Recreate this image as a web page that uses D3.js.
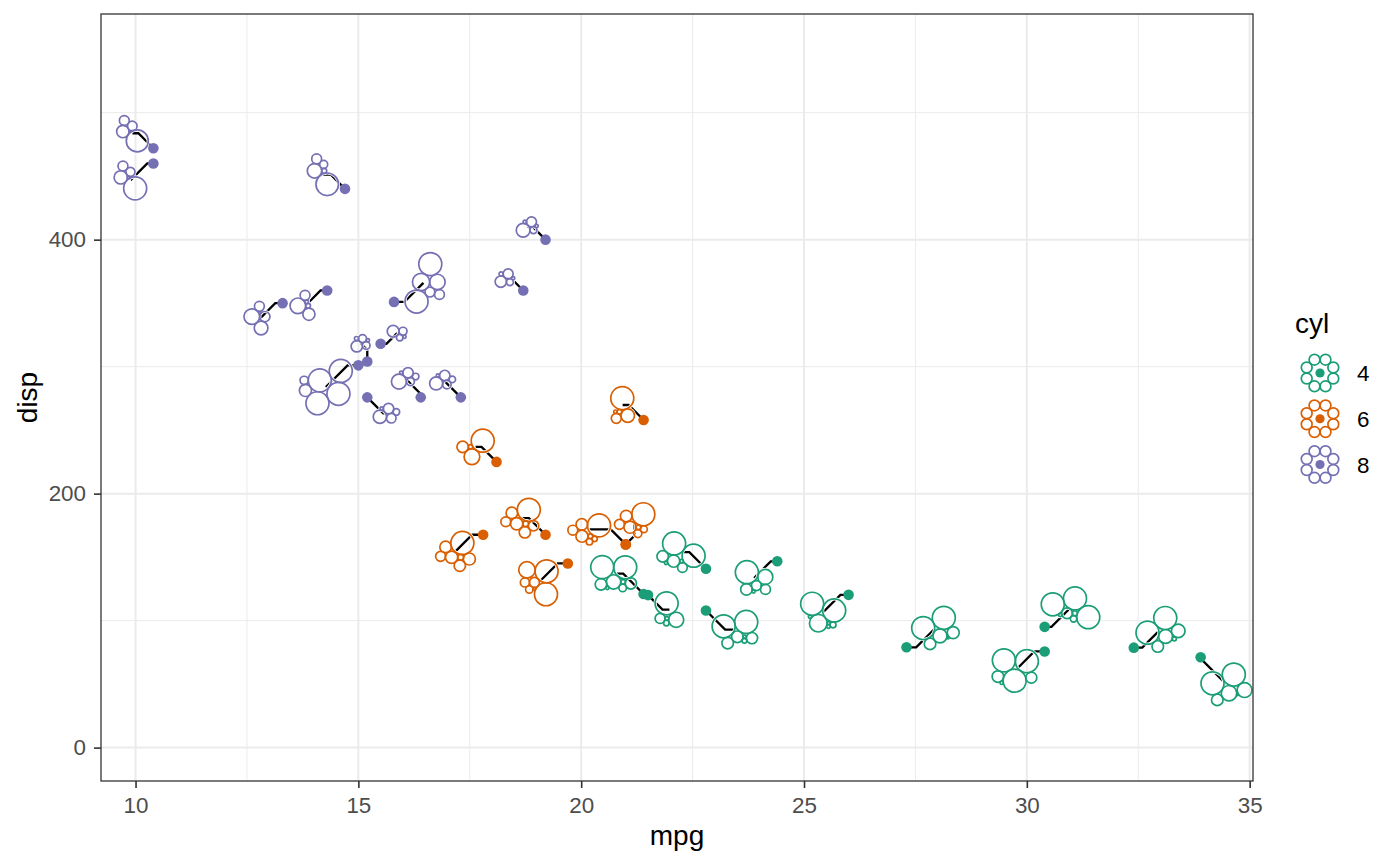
<!DOCTYPE html>
<html>
<head>
<meta charset="utf-8">
<script src="https://cdn.jsdelivr.net/npm/d3@7"></script>
<style>
  body { margin: 0; background: #fff; }
  text { font-family: "Liberation Sans", Arial, sans-serif; }
</style>
</head>
<body>
<div id="chart"></div>
<script>
// mtcars, in the usual row order
const carNames = ['Mazda RX4', 'Mazda RX4 Wag', 'Datsun 710', 'Hornet 4 Drive', 'Hornet Sportabout', 'Valiant',
  'Duster 360', 'Merc 240D', 'Merc 230', 'Merc 280', 'Merc 280C', 'Merc 450SE', 'Merc 450SL', 'Merc 450SLC',
  'Cadillac Fleetwood', 'Lincoln Continental', 'Chrysler Imperial', 'Fiat 128', 'Honda Civic', 'Toyota Corolla',
  'Toyota Corona', 'Dodge Challenger', 'AMC Javelin', 'Camaro Z28', 'Pontiac Firebird', 'Fiat X1-9',
  'Porsche 914-2', 'Lotus Europa', 'Ford Pantera L', 'Ferrari Dino', 'Maserati Bora', 'Volvo 142E'];
const mpg  = [21.0, 21.0, 22.8, 21.4, 18.7, 18.1, 14.3, 24.4, 22.8, 19.2, 17.8, 16.4, 17.3, 15.2, 10.4, 10.4,
  14.7, 32.4, 30.4, 33.9, 21.5, 15.5, 15.2, 13.3, 19.2, 27.3, 26.0, 30.4, 15.8, 19.7, 15.0, 21.4];
const cyl  = [6, 6, 4, 6, 8, 6, 8, 4, 4, 6, 6, 8, 8, 8, 8, 8, 8, 4, 4, 4, 4, 8, 8, 8, 8, 4, 4, 4, 8, 6, 8, 4];
const disp = [160, 160, 108, 258, 360, 225, 360, 146.7, 140.8, 167.6, 167.6, 275.8, 275.8, 275.8, 472, 460,
  440, 78.7, 75.7, 71.1, 120.1, 318, 304, 350, 400, 79, 120.3, 95.1, 351, 145, 301, 121];
const hp   = [110, 110, 93, 110, 175, 105, 245, 62, 95, 123, 123, 180, 180, 180, 205, 215, 230, 66, 52, 65,
  97, 150, 150, 245, 175, 66, 91, 113, 264, 175, 335, 109];
const drat = [3.90, 3.90, 3.85, 3.08, 3.15, 2.76, 3.21, 3.69, 3.92, 3.92, 3.92, 3.07, 3.07, 3.07, 2.93, 3.00,
  3.23, 4.08, 4.93, 4.22, 3.70, 2.76, 3.15, 3.73, 3.08, 4.08, 4.43, 3.77, 4.22, 3.62, 3.54, 4.11];
const wt   = [2.620, 2.875, 2.320, 3.215, 3.440, 3.460, 3.570, 3.190, 3.150, 3.440, 3.440, 4.070, 3.730, 3.780,
  5.250, 5.424, 5.345, 2.200, 1.615, 1.835, 2.465, 3.520, 3.435, 3.840, 3.845, 1.935, 2.140, 1.513, 3.170,
  2.770, 3.570, 2.780];
const qsec = [16.46, 17.02, 18.61, 19.44, 17.02, 20.22, 15.84, 20.00, 22.90, 18.30, 18.90, 17.40, 17.60, 18.00,
  17.98, 17.82, 17.42, 19.47, 18.52, 19.90, 20.01, 16.87, 17.30, 15.41, 17.05, 18.90, 16.70, 16.90, 14.50,
  15.50, 14.60, 18.60];
const vs   = [0, 0, 1, 1, 0, 1, 0, 1, 1, 1, 1, 0, 0, 0, 0, 0, 0, 1, 1, 1, 1, 0, 0, 0, 0, 1, 0, 1, 0, 0, 0, 1];
const am   = [1, 1, 1, 0, 0, 0, 0, 0, 0, 0, 0, 0, 0, 0, 0, 0, 0, 1, 1, 1, 0, 0, 0, 0, 0, 1, 1, 1, 1, 1, 1, 1];
const gear = [4, 4, 4, 3, 3, 3, 3, 4, 4, 4, 4, 3, 3, 3, 3, 3, 3, 4, 4, 4, 3, 3, 3, 3, 3, 4, 5, 5, 5, 5, 5, 4];
const carb = [4, 4, 1, 1, 2, 1, 4, 2, 2, 4, 4, 3, 3, 3, 4, 4, 4, 1, 2, 1, 1, 2, 2, 4, 2, 1, 2, 2, 4, 6, 8, 2];

// how far each glyph was pushed away from its point (mpg / disp units)
const nudgeMpg  = [-0.82, 0.20, 0.65, -0.47, -0.41, -0.47, -0.49, -0.52, -0.56, -0.56, -0.62, -0.35, -0.41, 0.43,
  -0.47, -0.51, -0.49, 0.60, -0.66, 0.58, 0.48, 0.37, -0.15, -0.50, -0.41, 0.65, -0.57, 0.58, 0.66, -0.66,
  -0.73, -0.67];
const nudgeDisp = [11.8, 19.1, -15.1, 11.8, 9.7, 11.8, -12.0, -13.1, 13.1, 13.1, -13.1, 15.0, 13.6, -12.6,
  11.8, -13.1, 11.3, 14.4, -15.0, -21.3, -11.4, 8.4, 14.4, -11.8, 10.0, 15.2, -13.6, 15.0, 15.0, -15.2,
  -17.1, 16.0];

const cylLevels = [4, 6, 8];
const cylColors = ['#1B9E77', '#D95F02', '#7570B3'];
const xTicks = [10, 15, 20, 25, 30, 35];
const xMinor = [12.5, 17.5, 22.5, 27.5, 32.5];
const yTicks = [0, 200, 400];
const yMinor = [100, 300, 500];

const W = 1400, H = 866;
const panel = { left: 101, right: 1253, top: 14, bottom: 781 };
const FONT = '"Liberation Sans", Arial, sans-serif';

const svg = d3.select('#chart').append('svg')
  .attr('width', W).attr('height', H)
  .attr('viewBox', `0 0 ${W} ${H}`);

const xExt = d3.extent(mpg);
const xPad = (xExt[1] - xExt[0]) * 0.05;
const x = d3.scaleLinear().domain([xExt[0] - xPad, xExt[1] + xPad]).range([panel.left, panel.right]);
const y = d3.scaleLinear().domain([-26.3, 577.7]).range([panel.bottom, panel.top]);
const color = d3.scaleOrdinal().domain(cylLevels).range(cylColors);

// grid
const grid = svg.append('g');
function vLines(vals, w) {
  grid.selectAll(null).data(vals).enter().append('line')
    .attr('x1', d => x(d)).attr('x2', d => x(d)).attr('y1', panel.top).attr('y2', panel.bottom)
    .attr('stroke', '#EBEBEB').attr('stroke-width', w);
}
function hLines(vals, w) {
  grid.selectAll(null).data(vals).enter().append('line')
    .attr('y1', d => y(d)).attr('y2', d => y(d)).attr('x1', panel.left).attr('x2', panel.right)
    .attr('stroke', '#EBEBEB').attr('stroke-width', w);
}
vLines(xMinor, 1); hLines(yMinor, 1);
vLines(xTicks, 2); hLines(yTicks, 2);

// front-chain circle packing, the old (v3) d3 variant, circles kept in column order
function packChain(circles) {
  const n = circles.length;
  let xMin = Infinity, xMax = -Infinity, yMin = Infinity, yMax = -Infinity;
  const bound = c => {
    xMin = Math.min(c.x - c.r, xMin); xMax = Math.max(c.x + c.r, xMax);
    yMin = Math.min(c.y - c.r, yMin); yMax = Math.max(c.y + c.r, yMax);
  };
  const insert = (a, b) => { const c = a.next; a.next = b; b.prev = a; b.next = c; c.prev = b; };
  const splice = (a, b) => { a.next = b; b.prev = a; };
  const intersects = (a, b) => {
    const dx = b.x - a.x, dy = b.y - a.y, dr = a.r + b.r;
    return 0.999 * dr * dr > dx * dx + dy * dy;
  };
  const place = (a, b, c) => {
    let db = a.r + c.r;
    const dx = b.x - a.x, dy = b.y - a.y;
    if (db && (dx || dy)) {
      let da = b.r + c.r;
      const dc = dx * dx + dy * dy;
      da *= da; db *= db;
      const px = 0.5 + (db - da) / (2 * dc);
      const py = Math.sqrt(Math.max(0, 2 * da * (db + dc) - (db -= dc) * db - da * da)) / (2 * dc);
      c.x = a.x + px * dx + py * dy;
      c.y = a.y + px * dy - py * dx;
    } else {
      c.x = a.x + db;
      c.y = a.y;
    }
  };
  circles.forEach(c => { c.next = c.prev = c; });
  let a = circles[0], b, c, j, k;
  a.x = -a.r; a.y = 0; bound(a);
  if (n > 1) {
    b = circles[1]; b.x = b.r; b.y = 0; bound(b);
    if (n > 2) {
      c = circles[2]; place(a, b, c); bound(c);
      insert(a, c); a.prev = c; insert(c, b); b = a.next;
      let guard = 0;
      for (let i = 3; i < n && guard < 500; i++, guard++) {
        place(a, b, c = circles[i]);
        let isect = 0, s1 = 1, s2 = 1;
        for (j = b.next; j !== b; j = j.next, s1++) {
          if (intersects(j, c)) { isect = 1; break; }
        }
        if (isect) {
          for (k = a.prev; k !== j.prev; k = k.prev, s2++) {
            if (intersects(k, c)) break;
          }
          if (s1 < s2 || (s1 === s2 && b.r < a.r)) splice(a, b = j);
          else splice(a = k, b);
          i--;
        } else {
          insert(a, c); b = c; bound(c);
        }
      }
    }
  }
  const cx = (xMin + xMax) / 2, cy = (yMin + yMax) / 2;
  // drawn point-mirrored on screen
  return circles.map(c => ({ x: cx - c.x, y: cy - c.y, r: c.r }));
}

function overlaps(circles) {
  const vis = circles.filter(c => c.r > 0.3);
  for (let i = 0; i < vis.length; i++) {
    for (let j = i + 1; j < vis.length; j++) {
      const d = Math.hypot(vis[i].x - vis[j].x, vis[i].y - vis[j].y);
      if (d < vis[i].r + vis[j].r - 0.5) return true;
    }
  }
  return false;
}

// glyphs: the 8 other columns rescaled to 0-1, radius proportional
const glyphVars = [hp, drat, wt, qsec, vs, am, gear, carb];
const rescalers = glyphVars.map(arr => d3.scaleLinear().domain(d3.extent(arr)).range([0, 1]));
const rScale = d3.scaleLinear().domain([0, 1]).range([0, 11.5]);

const cars = mpg.map((m, i) => {
  const radii = glyphVars.map((arr, k) => rScale(rescalers[k](arr[i])));
  let circles = packChain(radii.map(r => ({ r })));
  if (overlaps(circles)) {
    // zero-size circles can trip the chain packing up; fall back to d3's own packer
    circles = radii.map(r => ({ r }));
    d3.packSiblings(circles);
  }
  return {
    name: carNames[i],
    px: x(m), py: y(disp[i]),
    gx: x(m + nudgeMpg[i]), gy: y(disp[i] + nudgeDisp[i]),
    col: color(cyl[i]),
    circles: circles
  };
});

// elbow connector: one 45 degree leg plus one straight leg
function connector(d) {
  const dx = d.gx - d.px, dy = d.gy - d.py;
  const sx = Math.sign(dx) || 1, sy = Math.sign(dy) || 1;
  const ax = Math.abs(dx), ay = Math.abs(dy);
  let mid;
  if (ax >= ay) {
    if (dx * dy > 0) mid = [d.px + sx * ay, d.gy];
    else mid = [d.px + sx * (ax - ay), d.py];
  } else {
    if (dx * dy > 0) mid = [d.px, d.py + sy * (ay - ax)];
    else mid = [d.px + dx, d.py + sy * ax];
  }
  return d3.line()([[d.px, d.py], mid, [d.gx, d.gy]]);
}

const layer = svg.append('g');
layer.selectAll('.seg').data(cars).enter().append('path')
  .attr('d', connector)
  .attr('fill', 'none').attr('stroke', '#000').attr('stroke-width', 2.3);

cars.forEach(d => {
  const g = layer.append('g').attr('transform', `translate(${d.gx},${d.gy})`);
  const vis = d.circles.filter(c => c.r > 0.3);
  g.selectAll('.halo').data(vis).enter().append('circle')
    .attr('cx', c => c.x).attr('cy', c => c.y).attr('r', c => c.r)
    .attr('fill', 'none').attr('stroke', '#fff').attr('stroke-width', 3.2);
  g.selectAll('.petal').data(vis).enter().append('circle')
    .attr('cx', c => c.x).attr('cy', c => c.y).attr('r', c => c.r)
    .attr('fill', 'none').attr('stroke', d.col).attr('stroke-width', 1.7);
});

layer.selectAll('.pt').data(cars).enter().append('circle')
  .attr('cx', d => d.px).attr('cy', d => d.py).attr('r', 5.3)
  .attr('fill', d => d.col)
  .append('title').text(d => d.name);

// panel border
svg.append('rect')
  .attr('x', panel.left).attr('y', panel.top)
  .attr('width', panel.right - panel.left).attr('height', panel.bottom - panel.top)
  .attr('fill', 'none').attr('stroke', '#333333').attr('stroke-width', 1.3);

// axes
const xAxis = svg.append('g').attr('transform', `translate(0,${panel.bottom})`)
  .call(d3.axisBottom(x).tickValues(xTicks).tickSize(7).tickPadding(9).tickFormat(d3.format('d')));
const yAxis = svg.append('g').attr('transform', `translate(${panel.left},0)`)
  .call(d3.axisLeft(y).tickValues(yTicks).tickSize(7).tickPadding(8).tickFormat(d3.format('d')));
[xAxis, yAxis].forEach(a => {
  a.select('.domain').remove();
  a.selectAll('.tick line').attr('stroke', '#333333').attr('stroke-width', 1.6);
  a.selectAll('.tick text').attr('fill', '#4D4D4D')
    .style('font-size', '22.4px').style('font-family', FONT);
});

svg.append('text')
  .attr('x', (panel.left + panel.right) / 2).attr('y', 845)
  .attr('text-anchor', 'middle').style('font-size', '28px').text('mpg');
svg.append('text')
  .attr('transform', `translate(37,${(panel.top + panel.bottom) / 2}) rotate(-90)`)
  .attr('text-anchor', 'middle').style('font-size', '28px').text('disp');

// legend
const legend = svg.append('g').attr('transform', 'translate(1283,0)');
legend.append('text').attr('x', 12).attr('y', 333).style('font-size', '28px').text('cyl');
const keyY = d3.scalePoint().domain(cylLevels).range([373, 464.5]);
const petalAngles = d3.range(8).map(k => (22.5 + 45 * k) * Math.PI / 180);
cylLevels.forEach(c => {
  const k = legend.append('g').attr('transform', `translate(37,${keyY(c)})`);
  k.selectAll('circle.p').data(petalAngles).enter().append('circle')
    .attr('cx', a => 14.4 * Math.cos(a)).attr('cy', a => 14.4 * Math.sin(a)).attr('r', 5.4)
    .attr('fill', 'none').attr('stroke', color(c)).attr('stroke-width', 1.7);
  k.append('circle').attr('r', 4.6).attr('fill', color(c));
  legend.append('text').attr('x', 74).attr('y', keyY(c)).attr('dy', '0.36em')
    .style('font-size', '22.4px').text(c);
});
</script>
</body>
</html>
